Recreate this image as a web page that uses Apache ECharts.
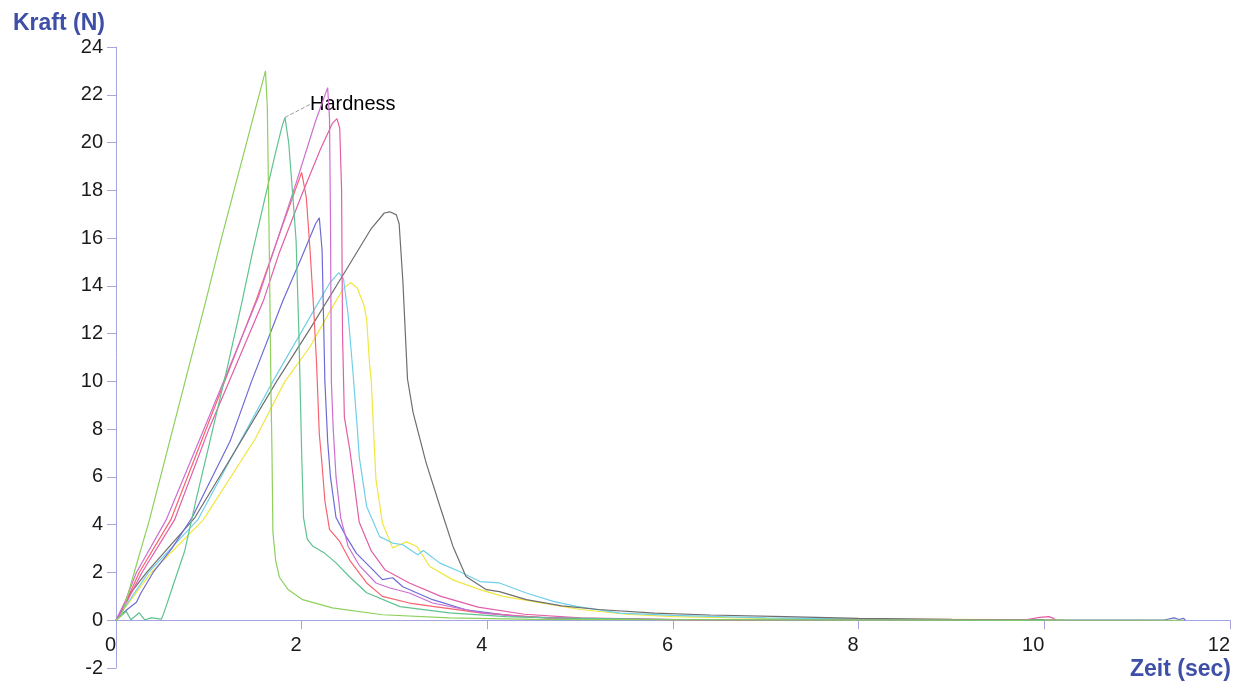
<!DOCTYPE html>
<html>
<head>
<meta charset="utf-8">
<script src="https://cdn.jsdelivr.net/npm/echarts@6/dist/echarts.min.js"></script>
<style>
  html, body { margin: 0; padding: 0; background: #fff; }
  #chart { width: 1239px; height: 684px; }
</style>
</head>
<body>
<div id="chart"></div>
<script>
// force curves, [time in sec, force in N]
const greenCurve = [[0,0],[0.06,0.2],[0.1,0.7],[0.36,4.2],[0.97,13.4],[1.13,15.9],[1.61,23.0],[1.63,21.5],[1.65,15.9],[1.67,9.5],[1.68,7.1],[1.69,3.7],[1.72,2.5],[1.76,1.8],[1.85,1.3],[2.01,0.86],[2.33,0.52],[2.87,0.23],[3.59,0.1],[4.5,0.04],[6,0.02],[8,0.01],[11.5,0]];
const tealCurve = [[0,0],[0.11,0.37],[0.16,0.02],[0.25,0.31],[0.31,0.02],[0.38,0.1],[0.49,0.05],[0.52,0.35],[0.61,1.4],[0.74,2.9],[0.86,5.0],[1.0,7.3],[1.2,10.6],[1.35,13.2],[1.47,15.4],[1.6,17.6],[1.72,19.6],[1.79,20.7],[1.82,21.05],[1.86,20.0],[1.9,18.0],[1.94,15.9],[1.97,12.0],[2.0,7.0],[2.02,4.3],[2.06,3.4],[2.12,3.1],[2.25,2.8],[2.37,2.4],[2.52,1.8],[2.7,1.15],[3.06,0.57],[3.59,0.31],[4.2,0.15],[4.67,0.1],[6,0.03],[8,0.01],[10,0]];
const magentaCurve = [[0,0],[0.1,0.8],[0.22,2.0],[0.54,4.2],[1.0,8.5],[1.54,13.6],[1.94,18.3],[2.15,20.9],[2.28,22.3],[2.3,21.0],[2.31,17.0],[2.32,10.0],[2.34,8.0],[2.37,6.0],[2.42,4.3],[2.5,3.1],[2.62,2.3],[2.8,1.56],[2.95,1.35],[3.16,1.14],[3.41,0.72],[3.95,0.3],[4.5,0.12],[5.5,0.04],[7,0.01],[9,0]];
const pinkCurve = [[0,0],[0.12,0.8],[0.28,2.0],[0.63,4.2],[1.0,8.0],[1.59,13.4],[1.76,15.4],[2.0,17.8],[2.2,19.7],[2.33,20.8],[2.38,21.0],[2.41,20.6],[2.43,18.0],[2.44,12.0],[2.46,8.5],[2.52,7.1],[2.62,4.1],[2.75,2.9],[2.9,2.1],[3.16,1.56],[3.5,1.0],[3.9,0.55],[4.4,0.25],[5,0.1],[6,0.03],[8,0.01],[9.8,0.02],[9.95,0.12],[10.05,0.15],[10.1,0.08],[10.12,0]];
const redCurve = [[0,0],[0.1,0.7],[0.25,2.0],[0.59,4.2],[1.0,8.3],[1.51,13.4],[1.8,16.6],[2.0,18.75],[2.05,17.7],[2.09,15.5],[2.13,13.0],[2.16,10.8],[2.19,7.8],[2.22,6.5],[2.25,5.0],[2.3,3.8],[2.41,3.3],[2.52,2.5],[2.7,1.56],[2.87,1.0],[3.16,0.72],[3.41,0.58],[3.95,0.3],[4.67,0.09],[6,0.02],[8,0]];
const blueCurve = [[0,0],[0.12,0.45],[0.22,0.75],[0.27,1.15],[0.4,2.0],[0.6,3.0],[0.82,4.3],[1.23,7.5],[1.46,10.0],[1.8,13.4],[2.0,15.2],[2.15,16.6],[2.19,16.85],[2.22,15.5],[2.25,10.0],[2.28,7.5],[2.31,6.0],[2.37,4.3],[2.48,3.5],[2.59,2.8],[2.77,2.1],[2.87,1.7],[2.98,1.78],[3.09,1.4],[3.41,0.86],[3.77,0.44],[4.31,0.16],[5,0.06],[6.5,0.02],[9,0],[11.3,0.02],[11.4,0.1],[11.45,0.03],[11.5,0.08],[11.52,0]];
const grayCurve = [[0,0],[0.15,1.1],[0.33,2.0],[0.85,4.3],[1.3,7.2],[1.73,10.0],[2.09,12.2],[2.5,14.8],[2.75,16.4],[2.89,17.05],[2.95,17.1],[3.02,16.97],[3.05,16.6],[3.09,14.2],[3.14,10.1],[3.2,8.7],[3.34,6.6],[3.49,4.76],[3.63,3.09],[3.77,1.83],[3.99,1.28],[4.13,1.2],[4.42,0.86],[4.8,0.6],[5.2,0.45],[5.8,0.3],[6.4,0.22],[7.2,0.15],[8,0.08],[9,0.04],[10,0.02]];
const cyanCurve = [[0,0],[0.35,2.0],[0.88,4.2],[1.2,6.5],[1.69,10.0],[2.09,12.7],[2.3,14.1],[2.4,14.55],[2.45,14.3],[2.5,12.8],[2.55,10.5],[2.6,8.0],[2.62,6.85],[2.7,4.76],[2.84,3.5],[2.98,3.23],[3.09,3.16],[3.25,2.74],[3.31,2.92],[3.49,2.39],[3.7,2.04],[3.92,1.62],[4.13,1.56],[4.42,1.14],[4.71,0.79],[4.96,0.58],[5.43,0.3],[6,0.2],[7,0.1],[8,0.05],[9,0.02]];
const yellowCurve = [[0,0],[0.38,2.0],[0.94,4.2],[1.5,7.6],[1.82,10.0],[2.09,11.45],[2.3,12.9],[2.45,13.9],[2.53,14.13],[2.6,13.9],[2.67,13.2],[2.7,12.6],[2.73,10.8],[2.75,10.0],[2.78,7.5],[2.8,5.9],[2.87,4.07],[2.98,3.03],[3.05,3.15],[3.13,3.28],[3.24,3.09],[3.38,2.25],[3.63,1.69],[3.92,1.28],[4.17,1.0],[4.6,0.72],[5.0,0.45],[5.5,0.25],[6,0.15],[7,0.08],[8,0.05],[9.5,0.03],[10.2,0.02]];

// the peak that gets the "Hardness" callout
const hardnessPoint = [[1.82, 21.05]];
const hardnessText = "Hardness";

const curves = [
  { data: yellowCurve, color: "#f0e640" },
  { data: cyanCurve, color: "#70cfe8" },
  { data: grayCurve, color: "#6e6e6e" },
  { data: blueCurve, color: "#6e6ad6" },
  { data: redCurve, color: "#f7636e" },
  { data: pinkCurve, color: "#e25ea6" },
  { data: magentaCurve, color: "#cc6fd0" },
  { data: tealCurve, color: "#5fc28f" },
  { data: greenCurve, color: "#8dd05c" },
];

const axisColor = "#a5a5e2";
const nameColor = "#3d4fa6";

const chart = echarts.init(document.getElementById("chart"), null, { renderer: "canvas" });

const series = curves.map((c) => ({
  type: "line",
  data: c.data,
  showSymbol: false,
  symbol: "none",
  smooth: false,
  silent: true,
  lineStyle: { color: c.color, width: 1.2 },
  itemStyle: { color: c.color },
}));

series.push({
  type: "scatter",
  data: hardnessPoint,
  symbolSize: 0,
  silent: true,
  label: {
    show: true,
    position: "right",
    distance: 5,
    formatter: hardnessText,
    fontFamily: "Liberation Sans",
    fontSize: 20,
    color: "#000000",
    opacity: 1,
  },
  labelLayout: { dx: 20, dy: -13 },
  labelLine: {
    show: true,
    lineStyle: { color: "#9a9a9a", width: 1, type: "dashed" },
  },
});

chart.setOption({
  animation: false,
  backgroundColor: "#ffffff",
  grid: { left: 116, right: 9, top: 47, bottom: 16, outerBoundsMode: "none", containLabel: false },
  xAxis: {
    type: "value",
    min: 0,
    max: 12,
    interval: 2,
    name: "Zeit (sec)",
    nameLocation: "end",
    nameGap: 1,
    nameTextStyle: {
      fontFamily: "Liberation Sans",
      fontWeight: "bold",
      fontSize: 23,
      color: nameColor,
      align: "right",
      verticalAlign: "top",
      padding: [38, 0, 0, 0],
    },
    axisLine: { onZero: true, lineStyle: { color: axisColor, width: 1 } },
    axisTick: { show: true, length: 9, lineStyle: { color: axisColor } },
    // labels sit at the grid bottom in v6, pull them up under the zero line
    axisLabel: {
      margin: -33,
      align: "right",
      fontFamily: "Liberation Sans",
      fontSize: 20,
      color: "#1a1a1a",
    },
    splitLine: { show: false },
  },
  yAxis: {
    type: "value",
    min: -2,
    max: 24,
    interval: 2,
    name: "Kraft (N)",
    nameLocation: "end",
    nameGap: 12,
    nameTextStyle: {
      fontFamily: "Liberation Sans",
      fontWeight: "bold",
      fontSize: 23,
      color: nameColor,
      align: "right",
      padding: [0, 11, 0, 0],
    },
    axisLine: { show: true, lineStyle: { color: axisColor, width: 1 } },
    axisTick: { show: true, length: 9, lineStyle: { color: axisColor } },
    axisLabel: { margin: 13, fontFamily: "Liberation Sans", fontSize: 20, color: "#1a1a1a" },
    splitLine: { show: false },
  },
  series: series,
});
</script>
</body>
</html>
